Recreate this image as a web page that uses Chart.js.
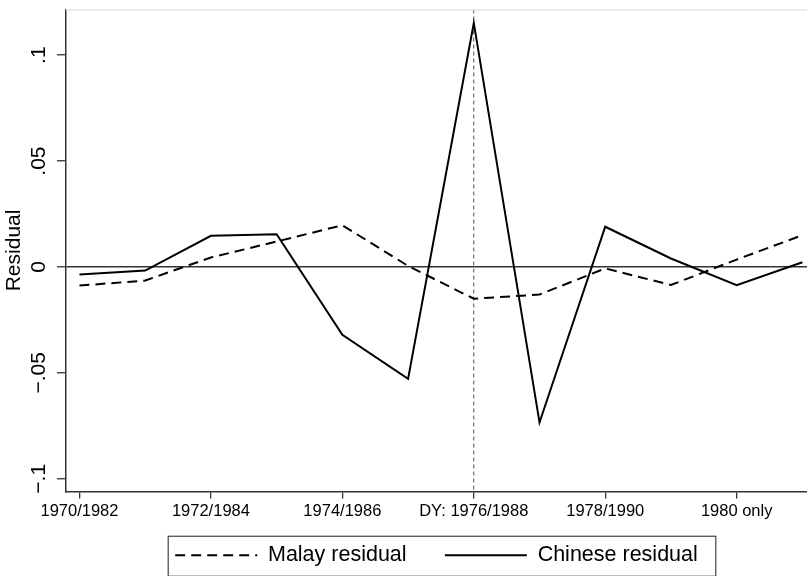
<!DOCTYPE html>
<html>
<head>
<meta charset="utf-8">
<script src="https://cdn.jsdelivr.net/npm/chart.js@4.4.0/dist/chart.umd.min.js"></script>
<style>
  html, body { margin: 0; padding: 0; background: #fff; }
  #c { display: block; }
</style>
</head>
<body>
<canvas id="c" width="807" height="576"></canvas>
<script>
// ---- data ----
const categories = ['1970/1982', '1971/1983', '1972/1984', '1973/1985', '1974/1986', '1975/1987',
                    'DY: 1976/1988', '1977/1989', '1978/1990', '1979/1991', '1980 only', '1981'];
const xTickValues = [0, 2, 4, 6, 8, 10];
const malayResidual = [-0.0088, -0.0064, 0.0045, 0.0120, 0.0197, 0.0005, -0.0150, -0.0130, -0.0007, -0.0085, 0.0035, 0.0150];
const chineseResidual = [-0.0036, -0.0017, 0.0147, 0.0155, -0.0320, -0.0528, 0.1152, -0.0734, 0.0190, 0.0040, -0.0086, 0.0022];
const yTickValues = [-0.1, -0.05, 0, 0.05, 0.1];
const yTickLabels = ['\u2212.1', '\u2212.05', '0', '.05', '.1'];
const eventIndex = 6;

const FONT = 'Liberation Sans, Arial, Helvetica, sans-serif';

const legendFrame = {
  id: 'legendFrame',
  afterDraw(chart) {
    const lg = chart.legend;
    if (!lg || !lg.legendHitBoxes || lg.legendHitBoxes.length < 2) return;
    const hb = lg.legendHitBoxes;
    const ctx = chart.ctx;
    const cy = hb[0].top + hb[0].height / 2;
    const left = hb[0].left - 7;
    const right = hb[1].left + hb[1].width + 18;
    ctx.save();
    ctx.strokeStyle = '#444';
    ctx.lineWidth = 1.2;
    ctx.strokeRect(left, cy - 19, right - left, 40);
    ctx.restore();
  }
};

const plotTop = {
  id: 'plotTop',
  beforeDatasetsDraw(chart) {
    const a = chart.chartArea, ctx = chart.ctx;
    ctx.save();
    ctx.strokeStyle = '#e6e6e6';
    ctx.lineWidth = 1.5;
    ctx.beginPath();
    ctx.moveTo(a.left, a.top + 0.5);
    ctx.lineTo(a.right, a.top + 0.5);
    ctx.stroke();
    ctx.restore();
  }
};

new Chart(document.getElementById('c'), {
  type: 'line',
  data: {
    datasets: [
      {
        label: 'Malay residual',
        data: malayResidual.map((v, i) => ({ x: i, y: v })),
        borderColor: '#000',
        borderWidth: 2,
        borderDash: [10, 6],
        pointRadius: 0,
        tension: 0,
        fill: false
      },
      {
        label: 'Chinese residual',
        data: chineseResidual.map((v, i) => ({ x: i, y: v })),
        borderColor: '#000',
        borderWidth: 2,
        pointRadius: 0,
        tension: 0,
        fill: false
      }
    ]
  },
  options: {
    responsive: false,
    animation: false,
    devicePixelRatio: 1,
    layout: { padding: { top: 5, right: 0, left: 0, bottom: 0 } },
    plugins: {
      tooltip: { enabled: false },
      legend: {
        position: 'bottom',
        fullSize: false,
        labels: {
          usePointStyle: true,
          pointStyle: 'line',
          pointStyleWidth: 82,
          padding: 23.25,
          color: '#000',
          font: { family: FONT, size: 21.5 },
          generateLabels: chart => {
            const items = Chart.defaults.plugins.legend.labels.generateLabels(chart);
            items.forEach((it, i) => {
              const ds = chart.data.datasets[it.datasetIndex != null ? it.datasetIndex : i];
              it.lineDash = ds.borderDash || [];
              it.lineWidth = ds.borderWidth;
              it.strokeStyle = ds.borderColor;
              it.fillStyle = 'rgba(0,0,0,0)';
              it.pointStyle = 'line';
            });
            if (items.length) items[0].text = items[0].text + '\u2002\u2009';
            return items;
          }
        }
      }
    },
    scales: {
      x: {
        type: 'linear',
        min: -0.205,
        max: 11.07,
        afterBuildTicks: s => { s.ticks = xTickValues.map(v => ({ value: v })); },
        afterFit: s => { s.height = 29.75; },
        ticks: {
          autoSkip: false,
          maxRotation: 0,
          minRotation: 0,
          padding: 3,
          color: '#000',
          font: { family: FONT, size: 16.5 },
          callback: v => categories[v]
        },
        grid: {
          drawTicks: true,
          tickLength: 7,
          tickColor: '#333',
          tickWidth: 1.3,
          lineWidth: 1.3,
          color: c => (c.tick && c.tick.value === eventIndex) ? '#777' : 'rgba(0,0,0,0)'
        },
        border: { display: true, color: '#333', width: 1.5, dash: [4, 3] }
      },
      y: {
        type: 'linear',
        min: -0.106,
        max: 0.1216,
        afterBuildTicks: s => { s.ticks = yTickValues.map(v => ({ value: v })); },
        afterFit: s => { s.width = 66; },
        ticks: {
          autoSkip: false,
          minRotation: 90,
          maxRotation: 90,
          crossAlign: 'center',
          padding: -3.2,
          color: '#000',
          font: { family: FONT, size: 21 },
          callback: (v) => {
            const i = yTickValues.findIndex(t => Math.abs(t - v) < 1e-9);
            return i >= 0 ? yTickLabels[i] : '';
          }
        },
        grid: {
          drawTicks: true,
          tickLength: 9,
          tickColor: '#333',
          tickWidth: 1.3,
          lineWidth: 1.5,
          color: c => (c.tick && Math.abs(c.tick.value) < 1e-12) ? '#333' : 'rgba(0,0,0,0)'
        },
        border: { display: true, color: '#333', width: 1.5 },
        title: {
          display: true,
          text: 'Residual',
          color: '#000',
          font: { family: FONT, size: 21 },
          padding: { top: 2, bottom: 0 }
        }
      }
    }
  },
  plugins: [plotTop, legendFrame]
});
</script>
</body>
</html>
